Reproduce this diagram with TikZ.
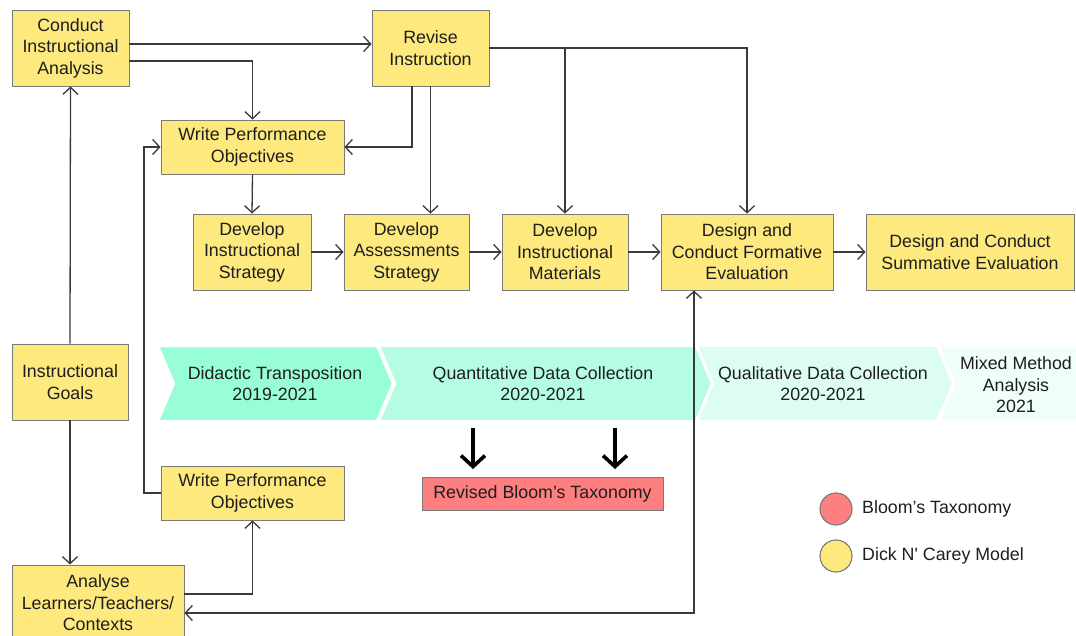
\documentclass[tikz,border=0pt]{standalone}
\usepackage{fontspec}
\setmainfont{Liberation Sans}
\usetikzlibrary{arrows.meta}
\definecolor{boxyellow}{HTML}{FEE97F}
\definecolor{boxborder}{HTML}{7A7A7A}
\definecolor{linegray}{HTML}{3A3A3A}
\definecolor{txt}{HTML}{1E1E1E}
\definecolor{mintA}{HTML}{98FED6}
\definecolor{mintB}{HTML}{B4FDE2}
\definecolor{mintC}{HTML}{DDFDF0}
\definecolor{mintD}{HTML}{EFFEF8}
\definecolor{bloomred}{HTML}{FE7F80}
\begin{document}
\begin{tikzpicture}[x=1pt,y=-1pt,
  box/.style={draw=boxborder, line width=0.9pt, fill=boxyellow, inner sep=0pt, align=center,
    font=\fontsize{17.8}{21.5}\selectfont, text=txt},
  conn/.style={draw=linegray, line width=1.3pt, -{Straight Barb[length=7pt,width=15pt]}},
  bconn/.style={draw=linegray, line width=1.3pt, {Straight Barb[length=7pt,width=15pt]}-{Straight Barb[length=7pt,width=15pt]}},
  bigarr/.style={draw=black, line width=3.6pt, -{Straight Barb[length=11pt,width=24pt]}},
  chev/.style={draw=white, line width=2pt},
  lab/.style={align=center, font=\fontsize{17.8}{21.5}\selectfont, text=txt, inner sep=0pt},
  legdot/.style={draw=boxborder, line width=0.8pt}
]
\useasboundingbox (0,0) rectangle (1076,635);
\clip (0,0) rectangle (1076,635);

% chevrons
\fill[chev, fill=mintA] (158,346) -- (377,346) -- (393,383.5) -- (377,421) -- (158,421) -- (174,383.5) -- cycle;
\fill[chev, fill=mintB] (379,346) -- (696,346) -- (712,383.5) -- (696,421) -- (379,421) -- (395,383.5) -- cycle;
\filldraw[chev, fill=mintC] (697,346) -- (937,346) -- (953,383.5) -- (937,421) -- (697,421) -- (713,383.5) -- cycle;
\filldraw[chev, fill=mintD] (939,346) -- (1090,346) -- (1090,421) -- (939,421) -- (955,383.5) -- cycle;
\draw[chev] (158,346) -- (377,346) -- (393,383.5) -- (377,421) -- (158,421) -- (174,383.5) -- cycle;
\draw[chev] (379,346) -- (696,346) -- (712,383.5) -- (696,421) -- (379,421) -- (395,383.5) -- cycle;

\node[lab] (c1) at (275,383.5) {Didactic Transposition\\2019-2021};
\node[lab] (c2) at (543,383.5) {Quantitative Data Collection\\2020-2021};
\node[lab] (c3) at (823,383.5) {Qualitative Data Collection\\2020-2021};
\node[lab] (c4) at (1016,385) {Mixed Method\\Analysis\\2021};

% boxes
\node[box, minimum width=117pt, minimum height=76pt] (cia) at (70.5,48) {Conduct\\Instructional\\Analysis};
\node[box, minimum width=117pt, minimum height=76pt] (rev) at (430.5,48) {Revise\\Instruction};
\node[box, minimum width=183pt, minimum height=54pt] (wpo1) at (252.5,147) {Write Performance\\Objectives};
\node[box, minimum width=118pt, minimum height=76pt] (dis) at (252,252) {Develop\\Instructional\\Strategy};
\node[box, minimum width=125pt, minimum height=76pt] (das) at (406.5,252) {Develop\\Assessments\\Strategy};
\node[box, minimum width=126pt, minimum height=76pt] (dim) at (565,252) {Develop\\Instructional\\Materials};
\node[box, minimum width=172pt, minimum height=76pt] (dfe) at (747,252) {Design and\\Conduct Formative\\Evaluation};
\node[box, minimum width=208pt, minimum height=76pt] (dse) at (970,252) {Design and Conduct\\Summative Evaluation};
\node[box, minimum width=116pt, minimum height=76pt] (ig) at (70,382) {Instructional\\Goals};
\node[box, minimum width=183pt, minimum height=54pt] (wpo2) at (252.5,493) {Write Performance\\Objectives};
\node[box, minimum width=172pt, minimum height=76pt] (ana) at (98,603) {Analyse\\Learners/Teachers/\\Contexts};
\node[box, fill=bloomred, minimum width=241pt, minimum height=33pt] (bloom) at (542.5,493.5) {Revised Bloom’s Taxonomy};

% connectors
\draw[conn] (ig.north) -- (cia.south);
\draw[conn] (ig.south) -- (ig.south |- ana.north);
\draw[conn] ([yshift=4pt]cia.east) -- ([yshift=4pt]rev.west);
\draw[conn] ([yshift=-13pt]cia.east) -| (wpo1.north);
\draw[conn] ([xshift=-18.5pt]rev.south) |- (wpo1.east);
\draw[conn] (rev.south) -- (rev.south |- das.north);
\draw[conn] (rev.east) -| (dfe.north);
\draw[conn] (rev.east -| dim.north) -- (dim.north);
\draw[conn] (wpo1.south) -- (dis.north);
\draw[conn] (dis.east) -- (das.west);
\draw[conn] (das.east) -- (dim.west);
\draw[conn] (dim.east) -- (dfe.west);
\draw[conn] (dfe.east) -- (dse.west);
\coordinate (wl) at (144,493);
\draw[conn] (wpo2.west) -- (wl) |- (wpo1.west);
\draw[conn] ([yshift=9pt]ana.east) -| (wpo2.south);
\draw[bconn] ([yshift=-10pt]ana.east) -| ([xshift=-53pt]dfe.south);

% bold arrows
\coordinate (b1s) at (473,428);
\coordinate (b1e) at (473,469);
\coordinate (b2s) at (615,428);
\coordinate (b2e) at (615,469);
\draw[bigarr] (b1s) -- (b1e);
\draw[bigarr] (b2s) -- (b2e);

% legend
\fill[legdot, fill=bloomred] (836,509) circle (16);
\draw[legdot] (836,509) circle (16);
\fill[legdot, fill=boxyellow] (836,556) circle (16);
\draw[legdot] (836,556) circle (16);
\node[lab, anchor=west] (l1) at (862,509) {Bloom’s Taxonomy};
\node[lab, anchor=west] (l2) at (862,556) {Dick N\textquotesingle\ Carey Model};
\end{tikzpicture}
\end{document}
